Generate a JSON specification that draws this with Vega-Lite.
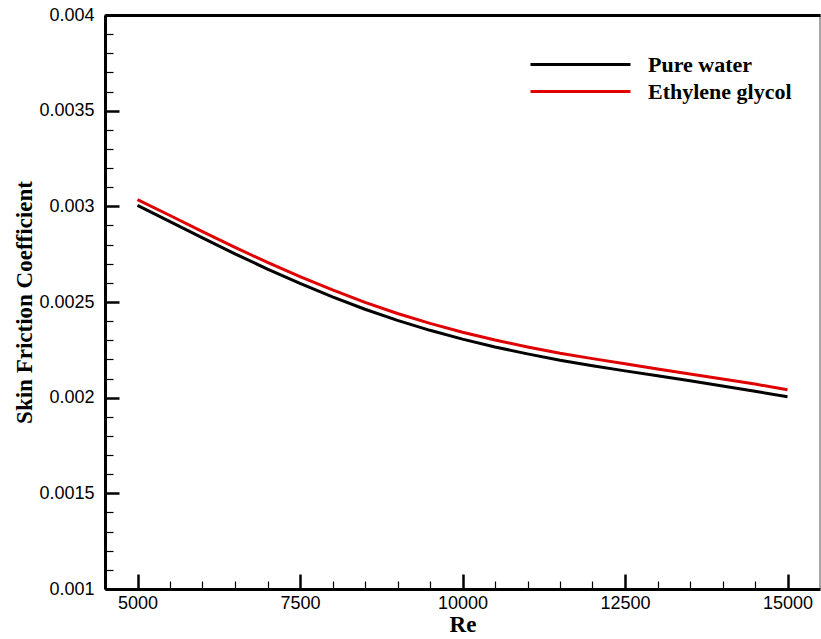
{
  "$schema": "https://vega.github.io/schema/vega-lite/v6.json",
  "width": 715,
  "height": 574,
  "autosize": "none",
  "padding": {"left": 105, "top": 15, "right": 1, "bottom": 50},
  "background": "white",
  "config": {
    "view": {"stroke": "#888888", "strokeWidth": 1.5},
    "axis": {
      "labelFont": "Liberation Sans",
      "labelFontSize": 18,
      "labelColor": "black",
      "labelOverlap": false,
      "titleFont": "Liberation Serif",
      "titleFontWeight": "bold",
      "titleFontSize": 23,
      "titleColor": "black",
      "domainColor": "black",
      "domainWidth": 3,
      "tickColor": "black",
      "grid": false
    }
  },
  "data": {
    "values": [
      {"Re": 5000, "Cf": 0.003005, "Fluid": "Pure water"},
      {"Re": 5500, "Cf": 0.00292, "Fluid": "Pure water"},
      {"Re": 6000, "Cf": 0.002835, "Fluid": "Pure water"},
      {"Re": 6500, "Cf": 0.002752, "Fluid": "Pure water"},
      {"Re": 7000, "Cf": 0.002672, "Fluid": "Pure water"},
      {"Re": 7500, "Cf": 0.002597, "Fluid": "Pure water"},
      {"Re": 8000, "Cf": 0.002527, "Fluid": "Pure water"},
      {"Re": 8500, "Cf": 0.002462, "Fluid": "Pure water"},
      {"Re": 9000, "Cf": 0.002404, "Fluid": "Pure water"},
      {"Re": 9500, "Cf": 0.002352, "Fluid": "Pure water"},
      {"Re": 10000, "Cf": 0.002306, "Fluid": "Pure water"},
      {"Re": 10500, "Cf": 0.002265, "Fluid": "Pure water"},
      {"Re": 11000, "Cf": 0.002229, "Fluid": "Pure water"},
      {"Re": 11500, "Cf": 0.002196, "Fluid": "Pure water"},
      {"Re": 12000, "Cf": 0.002167, "Fluid": "Pure water"},
      {"Re": 12500, "Cf": 0.00214, "Fluid": "Pure water"},
      {"Re": 13000, "Cf": 0.002114, "Fluid": "Pure water"},
      {"Re": 13500, "Cf": 0.002088, "Fluid": "Pure water"},
      {"Re": 14000, "Cf": 0.002061, "Fluid": "Pure water"},
      {"Re": 14500, "Cf": 0.002033, "Fluid": "Pure water"},
      {"Re": 15000, "Cf": 0.002005, "Fluid": "Pure water"},
      {"Re": 5000, "Cf": 0.003035, "Fluid": "Ethylene glycol"},
      {"Re": 5500, "Cf": 0.002952, "Fluid": "Ethylene glycol"},
      {"Re": 6000, "Cf": 0.002868, "Fluid": "Ethylene glycol"},
      {"Re": 6500, "Cf": 0.002786, "Fluid": "Ethylene glycol"},
      {"Re": 7000, "Cf": 0.002707, "Fluid": "Ethylene glycol"},
      {"Re": 7500, "Cf": 0.002633, "Fluid": "Ethylene glycol"},
      {"Re": 8000, "Cf": 0.002563, "Fluid": "Ethylene glycol"},
      {"Re": 8500, "Cf": 0.002498, "Fluid": "Ethylene glycol"},
      {"Re": 9000, "Cf": 0.00244, "Fluid": "Ethylene glycol"},
      {"Re": 9500, "Cf": 0.002388, "Fluid": "Ethylene glycol"},
      {"Re": 10000, "Cf": 0.002342, "Fluid": "Ethylene glycol"},
      {"Re": 10500, "Cf": 0.002301, "Fluid": "Ethylene glycol"},
      {"Re": 11000, "Cf": 0.002265, "Fluid": "Ethylene glycol"},
      {"Re": 11500, "Cf": 0.002232, "Fluid": "Ethylene glycol"},
      {"Re": 12000, "Cf": 0.002204, "Fluid": "Ethylene glycol"},
      {"Re": 12500, "Cf": 0.002177, "Fluid": "Ethylene glycol"},
      {"Re": 13000, "Cf": 0.00215, "Fluid": "Ethylene glycol"},
      {"Re": 13500, "Cf": 0.002124, "Fluid": "Ethylene glycol"},
      {"Re": 14000, "Cf": 0.002098, "Fluid": "Ethylene glycol"},
      {"Re": 14500, "Cf": 0.002071, "Fluid": "Ethylene glycol"},
      {"Re": 15000, "Cf": 0.002041, "Fluid": "Ethylene glycol"}
    ]
  },
  "layer": [
    {
      "mark": {"type": "line", "strokeWidth": 0, "opacity": 0},
      "encoding": {
        "x": {
          "field": "Re",
          "type": "quantitative",
          "scale": {"domain": [4500, 15500], "nice": false, "zero": false},
          "axis": {
            "orient": "bottom",
            "title": null,
            "labels": false,
            "domain": false,
            "values": [5500, 6000, 6500, 7000, 8000, 8500, 9000, 9500, 10500, 11000, 11500, 12000, 13000, 13500, 14000, 14500],
            "tickSize": -8,
            "tickWidth": 1.2
          }
        },
        "y": {
          "field": "Cf",
          "type": "quantitative",
          "scale": {"domain": [0.001, 0.004], "nice": false, "zero": false},
          "axis": {
            "orient": "left",
            "title": null,
            "labels": false,
            "domain": false,
            "values": [0.0011, 0.0012, 0.0013, 0.0014, 0.0016, 0.0017, 0.0018, 0.0019, 0.0021, 0.0022, 0.0023, 0.0024, 0.0026, 0.0027, 0.0028, 0.0029, 0.0031, 0.0032, 0.0033, 0.0034, 0.0036, 0.0037, 0.0038, 0.0039],
            "tickSize": -8,
            "tickWidth": 1.2
          }
        }
      }
    },
    {
      "mark": {"type": "line", "strokeWidth": 0, "opacity": 0},
      "encoding": {
        "x": {
          "field": "Re",
          "type": "quantitative",
          "axis": {"orient": "top", "title": null, "labels": false, "ticks": false, "domainWidth": 3}
        },
        "y": {"field": "Cf", "type": "quantitative", "axis": null}
      }
    },
    {
      "mark": {"type": "line", "strokeWidth": 3},
      "encoding": {
        "x": {
          "field": "Re",
          "type": "quantitative",
          "title": "Re",
          "axis": {
            "orient": "bottom",
            "values": [5000, 7500, 10000, 12500, 15000],
            "format": "d",
            "tickSize": -15,
            "tickWidth": 2.5,
            "labelPadding": 20,
            "titlePadding": 1
          }
        },
        "y": {
          "field": "Cf",
          "type": "quantitative",
          "title": "Skin Friction Coefficient",
          "axis": {
            "orient": "left",
            "values": [0.001, 0.0015, 0.002, 0.0025, 0.003, 0.0035, 0.004],
            "format": "~g",
            "tickSize": -14,
            "tickWidth": 2.5,
            "labelPadding": 25,
            "titlePadding": 2
          }
        },
        "color": {
          "field": "Fluid",
          "type": "nominal",
          "sort": ["Pure water", "Ethylene glycol"],
          "scale": {"domain": ["Pure water", "Ethylene glycol"], "range": ["#000000", "#e00000"]},
          "legend": {
            "title": null,
            "orient": "none",
            "legendX": 464,
            "legendY": 38,
            "symbolType": "M-5,0H5",
            "symbolSize": 400,
            "symbolStrokeWidth": 3,
            "labelFont": "Liberation Serif",
            "labelFontWeight": "bold",
            "labelFontSize": 22,
            "labelColor": "black",
            "labelOffset": 56,
            "rowPadding": 4
          }
        }
      }
    }
  ],
  "resolve": {"axis": {"x": "independent", "y": "independent"}}
}
